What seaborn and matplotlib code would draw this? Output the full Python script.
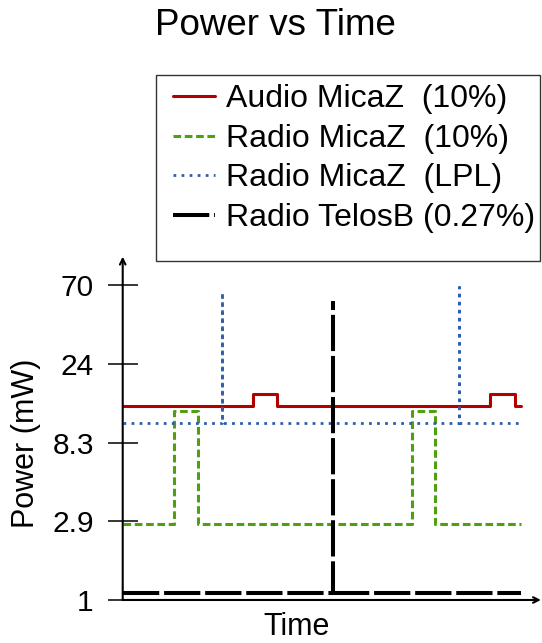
import matplotlib
matplotlib.use("Agg")
import matplotlib.pyplot as plt
import matplotlib.ticker as mticker
from matplotlib.patches import Rectangle
import seaborn as sns

sns.set_style("white")
plt.rcParams['font.family'] = ['Liberation Sans', 'DejaVu Sans']
plt.rcParams['text.color'] = 'black'
plt.rcParams['axes.labelcolor'] = 'black'
plt.rcParams['ytick.color'] = 'black'
plt.rcParams['xtick.color'] = 'black'

# time axis is arbitrary (0..100), power in mW on a log scale
audio_t = [0, 32.8, 38.9, 92.4, 98.6, 100]
audio_p = [13.6, 16.0, 13.6, 16.0, 13.6, 13.6]

radio_t = [0, 12.9, 19.0, 72.8, 78.5, 100]
radio_p = [2.8, 12.8, 2.8, 12.8, 2.8, 2.8]

lpl_t = [0, 25.0, 25.0, 25.0, 84.6, 84.6, 84.6, 100]
lpl_p = [10.9, 10.9, 63.5, 10.9, 10.9, 67.5, 10.9, 10.9]

# telosB: baseline with one tall spike (two pieces so the dashes stay visible)
telos_t = [0, 52.8, 52.8, 52.8, 100]
telos_p = [1.1, 1.1, 55.8, 1.1, 1.1]
telos_piece = [0, 0, 0, 1, 1]

yticks = [1, 2.9, 8.3, 24, 70]
ytick_labels = ['1', '2.9', '8.3', '24', '70']

fig = plt.figure(figsize=(5.42, 6.43), dpi=100)
ax = fig.add_axes([0.2264, 0.0669, 0.7716, 0.5339])

sns.lineplot(x=audio_t, y=audio_p, ax=ax, estimator=None, sort=False,
             drawstyle='steps-post', color='#b00000', linewidth=2.2,
             label='Audio MicaZ  (10%)')
sns.lineplot(x=radio_t, y=radio_p, ax=ax, estimator=None, sort=False,
             drawstyle='steps-post', color='#4fa010', linewidth=2.2,
             linestyle=(0, (2.5, 1.2)), label='Radio MicaZ  (10%)')
sns.lineplot(x=lpl_t, y=lpl_p, ax=ax, estimator=None, sort=False,
             color='#2f5fa8', linewidth=2.0,
             linestyle=(0, (1, 1.9)), label='Radio MicaZ  (LPL)')
sns.lineplot(x=telos_t, y=telos_p, units=telos_piece, ax=ax, estimator=None,
             sort=False, color='black', linewidth=2.9,
             linestyle=(0, (9, 1.2)), label='Radio TelosB (0.27%)')

ax.set_yscale('log')
ax.set_ylim(1, 102)
ax.set_xlim(0, 105.1)
ax.yaxis.set_major_locator(mticker.FixedLocator(yticks))
ax.yaxis.set_minor_locator(mticker.NullLocator())
ax.set_yticklabels(ytick_labels)
ax.set_xticks([])
ax.tick_params(axis='y', direction='inout', length=21.6, width=1.1,
               pad=10, labelsize=21.5, left=True, colors='black')

for s in ax.spines.values():
    s.set_visible(False)
arrow = dict(arrowstyle='->', lw=1.5, color='black', shrinkA=0, shrinkB=0)
ax.annotate('', xy=(1, 0), xytext=(0, 0), xycoords='axes fraction',
            arrowprops=arrow, annotation_clip=False)
ax.annotate('', xy=(0, 1), xytext=(0, 0), xycoords='axes fraction',
            arrowprops=arrow, annotation_clip=False)

ax.set_ylabel('Power (mW)', fontsize=22)
ax.yaxis.set_label_coords(-0.195, 0.457)
ax.set_xlabel('Time', fontsize=22)
ax.xaxis.set_label_coords(0.415, -0.036)

fig.text(0.509, 1 - 35 / 643, 'Power vs Time', ha='center', va='baseline',
         fontsize=26.5)

# one legend entry per series
handles, labels = ax.get_legend_handles_labels()
uniq = dict(zip(labels, handles))
leg = ax.legend(uniq.values(), uniq.keys(), loc='upper left',
                bbox_to_anchor=(0.319, 0.869),
                bbox_transform=fig.transFigure, frameon=False, fontsize=23,
                borderpad=0, borderaxespad=0, handlelength=1.31,
                handletextpad=0.36, labelspacing=0.3)
fig.patches.append(Rectangle((0.288, 0.594), 0.7085, 0.289,
                             transform=fig.transFigure, fill=False,
                             edgecolor='#333333', linewidth=1.0))

fig.savefig('out.png', dpi=100)
